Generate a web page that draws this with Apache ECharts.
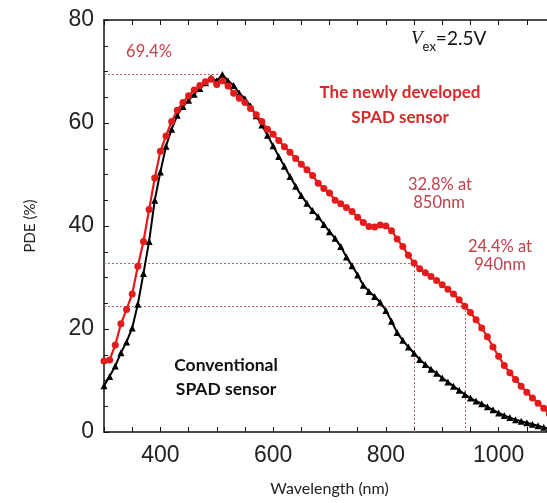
<!DOCTYPE html>
<html>
<head>
<meta charset="utf-8">
<script src="https://cdn.jsdelivr.net/npm/echarts@6/dist/echarts.min.js"></script>
<style>html,body{margin:0;padding:0;background:#fff}#c{width:547px;height:503px}</style>
</head>
<body>
<div id="c"></div>
<script>
// Wavelengths (nm), sampled every 10 nm
const wavelengths = [];
for (let w = 300; w <= 1100; w += 10) wavelengths.push(w);

// Newly developed SPAD sensor PDE (%)
const newSpad = [13.8,14.0,16.9,21.0,23.8,26.8,32.2,37.0,43.2,49.3,
  54.5,57.5,60.3,62.5,64.0,65.3,66.4,67.3,68.0,68.5,
  67.5,68.2,67.2,65.8,64.8,64.0,62.8,61.6,60.3,58.8,
  57.8,56.6,55.4,54.3,53.1,52.0,50.9,49.8,48.3,47.3,
  46.4,45.0,44.3,43.6,42.8,41.7,40.7,39.9,39.8,40.2,
  40.0,39.1,37.5,36.0,34.3,32.8,31.7,30.9,30.2,29.4,
  28.6,27.7,26.8,25.7,24.4,23.2,21.8,20.2,18.5,16.5,
  14.7,12.9,11.5,10.2,8.9,7.7,6.6,5.6,4.6,3.5,2.6];

// Conventional SPAD sensor PDE (%)
const conventional = [9.0,10.8,12.8,15.4,17.5,20.2,24.8,30.8,37.0,45.0,
  50.5,55.5,58.8,61.5,63.2,64.4,65.6,66.7,67.8,68.8,
  68.2,69.4,68.2,67.3,65.8,64.7,63.3,61.4,59.6,57.6,
  55.6,53.5,51.6,49.6,47.7,45.9,44.4,43.0,41.8,40.3,
  38.9,37.6,36.0,34.0,32.3,30.5,28.5,27.3,26.3,25.2,
  23.6,21.5,19.3,17.8,16.5,15.3,14.1,13.1,12.2,11.4,
  10.5,9.7,8.9,8.1,7.3,6.6,6.0,5.5,4.9,4.3,
  3.7,3.2,2.8,2.4,2.1,1.8,1.5,1.2,0.9,0.7,0.5];

// Annotation reference values
const peakValue = 69.4, peakWl = 510;
const refPoints = [[850, 32.8], [940, 24.4]];

// Axis settings
const xMin = 300, xMax = 1100, xInterval = 100;
const yMin = 0, yMax = 80, yInterval = 20;

const pair = (xs, ys) => xs.map((x, i) => [x, ys[i]]);
const dotStyle = {color: '#b8606c', type: [2, 2], width: 1};

const chart = echarts.init(document.getElementById('c'), null, {renderer: 'canvas'});

const markLines = [
  [{coord: [xMin, peakValue]}, {coord: [peakWl, peakValue]}]
];
refPoints.forEach(([w, v]) => {
  markLines.push([{coord: [xMin, v]}, {coord: [w, v]}]);
  markLines.push([{coord: [w, 0]}, {coord: [w, v]}]);
});

const axisLineStyle = {color: '#111', width: 1.5};
const tickFont = {fontSize: 23, color: '#222', fontFamily: 'Liberation Sans, Arial, sans-serif'};
const annFont = 'Lato, Open Sans, sans-serif';

chart.setOption({
  backgroundColor: '#fff',
  animation: false,
  grid: {left: 104, width: 451, top: 20, bottom: 71, containLabel: false, outerBoundsMode: 'none'},
  xAxis: [{
    type: 'value', min: xMin, max: xMax, interval: xInterval, position: 'bottom',
    axisLine: {show: true, onZero: false, lineStyle: axisLineStyle},
    axisTick: {show: true, inside: true, length: 5, lineStyle: {color: '#111', width: 1}},
    minorTick: {show: true, splitNumber: 2, length: 5, lineStyle: {color: '#111', width: 1}},
    splitLine: {show: false},
    axisLabel: Object.assign({margin: 12, formatter: v => (v % 200 === 0 ? String(v) : '')}, tickFont),
    name: 'Wavelength (nm)', nameLocation: 'middle', nameGap: 49,
    nameTextStyle: {fontSize: 16, color: '#222', fontFamily: annFont}
  }, {
    type: 'value', min: xMin, max: xMax, interval: xInterval, position: 'top',
    axisLine: {show: true, onZero: false, lineStyle: axisLineStyle},
    axisTick: {show: true, inside: true, length: 5, lineStyle: {color: '#111', width: 1}},
    minorTick: {show: true, splitNumber: 2, length: 5, lineStyle: {color: '#111', width: 1}},
    splitLine: {show: false}, axisLabel: {show: false}
  }],
  yAxis: [{
    type: 'value', min: yMin, max: yMax, interval: yInterval,
    axisLine: {show: true, onZero: false, lineStyle: axisLineStyle},
    axisTick: {show: true, inside: true, length: 5, lineStyle: {color: '#111', width: 1}},
    minorTick: {show: true, splitNumber: 4, length: 4, lineStyle: {color: '#111', width: 1}},
    splitLine: {show: false},
    axisLabel: Object.assign({margin: 10}, tickFont),
    name: 'PDE (%)', nameLocation: 'middle', nameRotate: 90, nameGap: 66,
    nameTextStyle: {fontSize: 15, color: '#222', fontFamily: annFont}
  }],
  series: [{
    name: 'Conventional SPAD sensor', type: 'line', data: pair(wavelengths, conventional),
    symbol: 'triangle', symbolSize: 7, showSymbol: true,
    lineStyle: {color: '#000', width: 2}, itemStyle: {color: '#000'}, z: 3,
    markLine: {silent: true, symbol: 'none', label: {show: false}, lineStyle: dotStyle, data: markLines, z: 1}
  }, {
    name: 'The newly developed SPAD sensor', type: 'line', data: pair(wavelengths, newSpad),
    symbol: 'circle', symbolSize: 7, showSymbol: true,
    lineStyle: {color: '#e41b1b', width: 2.2}, itemStyle: {color: '#e41b1b'}, z: 4
  }],
  graphic: [
    {type: 'text', x: 149, y: 52, style: {text: '69.4%', align: 'center', verticalAlign: 'middle', fontSize: 16.5, fill: '#c8404c', fontFamily: annFont}},
    {type: 'text', left: 411, top: 29, style: {
      text: '{v|V}{s|ex}{n|=2.5V}', fill: '#111',
      rich: {
        v: {fontSize: 19, fontStyle: 'italic', fontFamily: 'Liberation Serif, serif', fill: '#111', lineHeight: 22, verticalAlign: 'bottom'},
        s: {fontSize: 13, fontFamily: annFont, fill: '#111', lineHeight: 22, verticalAlign: 'bottom', padding: [0, 0, -5, 0]},
        n: {fontSize: 19, fontFamily: annFont, fill: '#111', lineHeight: 22, verticalAlign: 'bottom'}
      }}},
    {type: 'text', x: 400, y: 93, style: {text: 'The newly developed', align: 'center', verticalAlign: 'middle', fontSize: 17, fontWeight: 'bold', fill: '#d42a2a', fontFamily: annFont}},
    {type: 'text', x: 400, y: 118, style: {text: 'SPAD sensor', align: 'center', verticalAlign: 'middle', fontSize: 17, fontWeight: 'bold', fill: '#d42a2a', fontFamily: annFont}},
    {type: 'text', x: 440, y: 185, style: {text: '32.8% at', align: 'center', verticalAlign: 'middle', fontSize: 16.5, fill: '#c0404c', fontFamily: annFont}},
    {type: 'text', x: 439, y: 203, style: {text: '850nm', align: 'center', verticalAlign: 'middle', fontSize: 16.5, fill: '#c0404c', fontFamily: annFont}},
    {type: 'text', x: 500, y: 247, style: {text: '24.4% at', align: 'center', verticalAlign: 'middle', fontSize: 16.5, fill: '#c0404c', fontFamily: annFont}},
    {type: 'text', x: 500, y: 265, style: {text: '940nm', align: 'center', verticalAlign: 'middle', fontSize: 16.5, fill: '#c0404c', fontFamily: annFont}},
    {type: 'text', x: 226, y: 365, style: {text: 'Conventional', align: 'center', verticalAlign: 'middle', fontSize: 17.5, fontWeight: 'bold', fill: '#111', fontFamily: annFont}},
    {type: 'text', x: 226, y: 389, style: {text: 'SPAD sensor', align: 'center', verticalAlign: 'middle', fontSize: 17.5, fontWeight: 'bold', fill: '#111', fontFamily: annFont}}
  ]
});
</script>
</body>
</html>
